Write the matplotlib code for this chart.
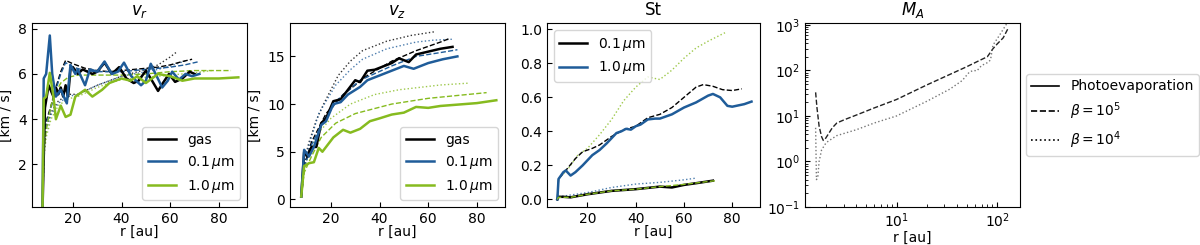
import numpy as np
import matplotlib
matplotlib.use("Agg")
import matplotlib.pyplot as plt

c_gas = 'black'
c_s01 = '#1f5c99'
c_s10 = '#86bb1f'

# ---- v_r panel ----
vr_gas_r = [7.5, 8.5, 10, 12, 13, 14, 15, 16, 17, 18, 19, 20, 22, 24, 26, 28, 30, 33, 36, 39, 42, 45, 47, 50, 52, 55, 57, 59.5, 62, 65, 68, 70]
vr_gas_v = [0.0, 4.5, 5.5, 5.0, 5.4, 5.1, 5.4, 5.0, 5.5, 5.0, 6.2, 6.3, 6.0, 6.2, 6.1, 6.0, 6.1, 6.5, 6.0, 6.3, 5.8, 5.6, 5.7, 6.15, 5.8, 5.25, 5.6, 6.0, 5.65, 5.8, 6.1, 6.0]
vr_s01_r = [7.5, 8.0, 9.0, 10.5, 11.5, 13, 15, 17.5, 19, 21, 22, 25, 27, 30, 33, 36, 38.5, 41, 44, 48, 50, 52, 54, 56.7, 59, 60.8, 63.6, 66.3, 69, 72]
vr_s01_v = [0.0, 5.8, 6.0, 7.7, 6.0, 5.0, 5.3, 4.7, 6.4, 6.0, 6.2, 5.5, 6.2, 6.1, 6.55, 6.0, 6.1, 6.5, 5.9, 5.5, 5.7, 6.45, 6.0, 5.4, 5.7, 6.1, 5.75, 6.0, 5.9, 6.0]
vr_s10_r = [7.5, 8.0, 9.0, 10.5, 12, 13, 15, 17, 19, 21, 25, 28, 32, 35, 40, 43.7, 46.5, 50, 55, 60, 65, 70, 80, 88]
vr_s10_v = [0.0, 4.9, 5.0, 6.05, 5.0, 4.0, 4.6, 4.1, 4.2, 5.0, 5.3, 5.0, 5.3, 5.6, 5.8, 5.7, 5.9, 5.6, 6.0, 5.9, 5.7, 5.8, 5.8, 5.85]

vr_gas_b5_r = [7.6, 8, 9, 11, 13, 15, 17, 20, 25, 30, 35, 40, 45, 50, 55, 60, 65, 69]
vr_gas_b5_v = [0.0, 2.8, 3.9, 4.6, 5.4, 6.1, 6.6, 6.45, 6.25, 6.15, 6.1, 6.15, 6.2, 6.25, 6.3, 6.4, 6.55, 6.65]
vr_s01_b5_r = [7.6, 8, 9, 11, 13, 15, 17, 20, 25, 30, 40, 50, 60, 66, 72]
vr_s01_b5_v = [0.0, 2.8, 3.8, 4.5, 5.3, 6.0, 6.5, 6.3, 6.15, 6.1, 6.1, 6.2, 6.3, 6.4, 6.55]
vr_s10_b5_r = [7.6, 8, 9, 11, 13, 15, 18, 22, 30, 40, 50, 60, 70, 85]
vr_s10_b5_v = [0.0, 2.5, 3.5, 4.6, 5.2, 5.6, 5.85, 5.95, 5.95, 5.95, 6.0, 6.1, 6.15, 6.15]
vr_gas_b4_r = [7.6, 8, 9, 11, 14, 18, 22, 26, 30, 35, 40, 45, 50, 55, 60, 63]
vr_gas_b4_v = [0.0, 2.5, 3.6, 4.3, 4.8, 5.1, 5.1, 5.3, 5.5, 5.7, 5.9, 6.05, 6.2, 6.4, 6.75, 7.0]
vr_s01_b4_r = [7.6, 8, 9, 11, 14, 18, 22, 26, 30, 35, 40, 45, 50, 55, 60, 67]
vr_s01_b4_v = [0.0, 2.5, 3.5, 4.2, 4.7, 5.0, 5.1, 5.3, 5.5, 5.7, 5.9, 6.0, 6.1, 6.2, 6.35, 6.6]
vr_s10_b4_r = [7.6, 8, 9, 11, 14, 18, 22, 26, 30, 35, 40, 50, 60, 70, 77]
vr_s10_b4_v = [0.0, 2.2, 3.2, 4.0, 4.6, 4.9, 5.0, 5.2, 5.4, 5.6, 5.75, 5.85, 5.95, 6.05, 6.15]

# ---- v_z panel ----
vz_gas_r = [7.8, 9, 10.5, 12, 14, 16, 18, 21, 24, 27, 30, 32, 35, 38, 42, 45, 48, 52, 55, 60, 65, 70]
vz_gas_v = [0.3, 5.0, 4.5, 5.5, 5.5, 8.0, 8.5, 10.3, 10.5, 11.5, 12.5, 12.3, 13.5, 13.6, 14.0, 14.3, 14.8, 14.4, 15.2, 15.5, 15.8, 16.0]
vz_s01_r = [7.8, 9, 11, 13, 16, 18, 21, 24, 27, 32, 35, 40, 45, 50, 54, 60, 66, 72]
vz_s01_v = [0.3, 5.2, 4.5, 5.5, 7.8, 8.2, 10.0, 10.2, 11.0, 11.8, 12.5, 13.0, 13.5, 14.0, 13.7, 14.3, 14.7, 15.0]
vz_s10_r = [7.8, 9, 11, 13, 15, 16.5, 18, 21, 25, 28, 32, 36, 40, 45, 50, 55, 60, 65, 70, 75, 80, 88]
vz_s10_v = [0.3, 3.5, 3.8, 3.9, 5.4, 5.0, 5.5, 6.5, 7.3, 7.0, 7.4, 8.2, 8.5, 8.9, 9.1, 9.7, 9.6, 9.8, 9.9, 10.0, 10.1, 10.4]

vz_gas_b5_r = [7.8, 9, 12, 18, 25, 35, 45, 55, 65, 69]
vz_gas_b5_v = [0.3, 3.5, 6.0, 9.0, 11.0, 13.0, 14.5, 15.6, 16.5, 16.9]
vz_s01_b5_r = [7.8, 9, 12, 17, 23, 32, 45, 55, 65, 72]
vz_s01_b5_v = [0.3, 3.3, 5.7, 8.3, 10.5, 12.5, 14.0, 15.0, 15.4, 15.7]
vz_s10_b5_r = [7.8, 9, 12, 16, 22, 30, 45, 60, 72, 84]
vz_s10_b5_v = [0.3, 2.8, 4.5, 6.5, 8.0, 9.0, 10.0, 10.6, 10.9, 11.2]
vz_gas_b4_r = [7.8, 9, 11, 14, 17, 23, 28, 33, 43, 53, 63]
vz_gas_b4_v = [0.3, 4.0, 6.0, 8.3, 10.0, 13.0, 14.5, 15.6, 16.6, 17.2, 17.6]
vz_s01_b4_r = [7.8, 9, 11, 15, 22, 28, 33, 43, 55, 62, 70]
vz_s01_b4_v = [0.3, 3.8, 5.7, 9.0, 12.0, 13.6, 14.7, 15.8, 16.5, 16.7, 16.8]
vz_s10_b4_r = [7.8, 9, 11, 13, 16, 20, 28, 38, 48, 65, 77]
vz_s10_b4_v = [0.3, 3.2, 4.8, 6.0, 7.3, 8.5, 10.0, 11.0, 11.5, 12.0, 12.2]

# ---- St panel ----
st_s01_r = [7.5, 8, 10, 13, 20, 30, 40, 50, 55, 60, 65, 72]
st_s01_v = [0.0, 0.015, 0.015, 0.012, 0.03, 0.05, 0.06, 0.075, 0.07, 0.085, 0.095, 0.11]
st_s10_r = [7.5, 8, 10, 11, 12, 13, 15, 18, 20, 22, 25, 28, 30, 32, 34, 36, 38, 40, 42, 45, 48, 50, 55, 60, 65, 70, 72, 75, 78, 80, 85, 88]
st_s10_v = [0.0, 0.12, 0.16, 0.17, 0.155, 0.14, 0.16, 0.20, 0.23, 0.26, 0.29, 0.33, 0.36, 0.39, 0.40, 0.415, 0.41, 0.43, 0.44, 0.47, 0.475, 0.475, 0.50, 0.54, 0.57, 0.61, 0.62, 0.60, 0.55, 0.545, 0.56, 0.575]
st_b5_hi_r = [7.5, 8, 11, 15, 18, 22, 25, 30, 35, 40, 45, 50, 55, 60, 65, 68, 72, 76, 80, 84]
st_b5_hi_v = [0.0, 0.12, 0.17, 0.24, 0.28, 0.30, 0.32, 0.37, 0.41, 0.43, 0.48, 0.50, 0.54, 0.60, 0.66, 0.675, 0.665, 0.645, 0.64, 0.65]
st_b5_lo_r = [7.5, 8, 13, 20, 30, 40, 50, 60, 73]
st_b5_lo_v = [0.0, 0.012, 0.012, 0.03, 0.05, 0.06, 0.075, 0.088, 0.11]
st_b4_hi_r = [8, 12, 16, 20, 25, 30, 35, 40, 45, 50, 55, 60, 65, 70, 77]
st_b4_hi_v = [0.12, 0.18, 0.26, 0.30, 0.38, 0.47, 0.58, 0.66, 0.72, 0.705, 0.76, 0.83, 0.89, 0.93, 0.98]
st_b4_lo_r = [8, 20, 30, 40, 50, 60, 65]
st_b4_lo_v = [0.015, 0.04, 0.07, 0.09, 0.10, 0.115, 0.125]

# ---- M_A panel ----
ma_b5_r = [1.57, 1.62, 1.7, 1.8, 1.87, 1.95, 2.1, 2.3, 2.55, 3, 4, 6, 10, 20, 34, 50, 67, 80, 91, 100, 115, 129]
ma_b5_v = [33, 15, 6, 3.5, 2.9, 3.1, 4.0, 5.5, 7.0, 8.2, 10.5, 15, 23, 48, 82, 121, 166, 200, 300, 380, 520, 850]
ma_b4_r = [1.57, 1.6, 1.65, 1.7, 1.8, 2.0, 2.3, 2.55, 4, 6, 10, 20, 34, 45, 53, 58, 63, 70, 81, 86, 91, 106, 129]
ma_b4_v = [5.5, 0.4, 0.45, 1.0, 1.8, 2.6, 3.2, 3.7, 5, 7, 10, 21, 39, 60, 92, 100, 98, 128, 150, 170, 360, 600, 1200]

fig = plt.figure(figsize=(12, 2.45), dpi=100)
w = 0.179
ax1 = fig.add_axes([0.0267, 0.155, w, 0.751])
ax2 = fig.add_axes([0.2417, 0.155, w, 0.751])
ax3 = fig.add_axes([0.4558, 0.155, 0.1775, 0.751])
ax4 = fig.add_axes([0.6708, 0.155, w, 0.751])

sol = dict(lw=1.8)
dsh = dict(lw=1.0, ls='--')
dot = dict(lw=1.0, ls=':', alpha=0.8)

ax1.plot(vr_gas_b4_r, vr_gas_b4_v, color=c_gas, **dot)
ax1.plot(vr_s01_b4_r, vr_s01_b4_v, color=c_s01, **dot)
ax1.plot(vr_s10_b4_r, vr_s10_b4_v, color=c_s10, **dot)
ax1.plot(vr_gas_b5_r, vr_gas_b5_v, color=c_gas, **dsh)
ax1.plot(vr_s01_b5_r, vr_s01_b5_v, color=c_s01, **dsh)
ax1.plot(vr_s10_b5_r, vr_s10_b5_v, color=c_s10, **dsh)
ax1.plot(vr_gas_r, vr_gas_v, color=c_gas, label='gas', **sol)
ax1.plot(vr_s01_r, vr_s01_v, color=c_s01, label=r'0.1$\,\mu$m', **sol)
ax1.plot(vr_s10_r, vr_s10_v, color=c_s10, label=r'1.0$\,\mu$m', **sol)
ax1.set_ylim(0.12, 8.25)
ax1.set_yticks([2, 4, 6, 8])
ax1.set_title(r'$v_r$', fontsize=12)
ax1.set_ylabel('[km / s]')
ax1.legend(loc='lower right', fontsize=10)

ax2.plot(vz_gas_b4_r, vz_gas_b4_v, color=c_gas, **dot)
ax2.plot(vz_s01_b4_r, vz_s01_b4_v, color=c_s01, **dot)
ax2.plot(vz_s10_b4_r, vz_s10_b4_v, color=c_s10, **dot)
ax2.plot(vz_gas_b5_r, vz_gas_b5_v, color=c_gas, **dsh)
ax2.plot(vz_s01_b5_r, vz_s01_b5_v, color=c_s01, **dsh)
ax2.plot(vz_s10_b5_r, vz_s10_b5_v, color=c_s10, **dsh)
ax2.plot(vz_gas_r, vz_gas_v, color=c_gas, label='gas', **sol)
ax2.plot(vz_s01_r, vz_s01_v, color=c_s01, label=r'0.1$\,\mu$m', **sol)
ax2.plot(vz_s10_r, vz_s10_v, color=c_s10, label=r'1.0$\,\mu$m', **sol)
ax2.set_ylim(-0.8, 18.5)
ax2.set_yticks([0, 5, 10, 15])
ax2.set_title(r'$v_z$', fontsize=12)
ax2.set_ylabel('[km / s]')
ax2.legend(loc='lower right', fontsize=10)

ax3.plot(st_b4_hi_r, st_b4_hi_v, color=c_s10, **dot)
ax3.plot(st_b4_lo_r, st_b4_lo_v, color=c_s01, **dot)
ax3.plot(st_b5_hi_r, st_b5_hi_v, color=c_gas, **dsh)
ax3.plot(st_s01_r, st_s01_v, color=c_gas, label=r'0.1$\,\mu$m', **sol)
ax3.plot(st_s10_r, st_s10_v, color=c_s01, label=r'1.0$\,\mu$m', **sol)
ax3.plot(st_b5_lo_r, st_b5_lo_v, color=c_s10, **dsh)
ax3.set_ylim(-0.045, 1.037)
ax3.set_title('St', fontsize=12)
ax3.legend(loc='upper left', fontsize=10)

ax4.plot(ma_b5_r, ma_b5_v, color='#222222', **dsh)
ax4.plot(ma_b4_r, ma_b4_v, color='#555555', **dot)
ax4.plot([], [], color='k', lw=1.2, ls='-', label='Photoevaporation')
ax4.plot([], [], color='k', lw=1.2, ls='--', label=r'$\beta = 10^5$')
ax4.plot([], [], color='k', lw=1.2, ls=':', label=r'$\beta = 10^4$')
ax4.set_xscale('log')
ax4.set_yscale('log')
ax4.set_xlim(1.23, 168)
ax4.set_ylim(0.1, 1100)
ax4.set_title(r'$M_A$', fontsize=12)
ax4.legend(loc='center left', bbox_to_anchor=(1.028, 0.5), borderaxespad=0, fontsize=10)

for ax in (ax1, ax2, ax3):
    ax.set_xlim(3.2, 91.5)
    ax.set_xticks([20, 40, 60, 80])
    ax.set_xlabel('r [au]', labelpad=-1)
ax4.set_xlabel('r [au]', labelpad=0)
for ax in (ax1, ax2, ax3, ax4):
    ax.tick_params(direction='in', which='both', labelsize=10)

fig.savefig('out.png', dpi=100)
